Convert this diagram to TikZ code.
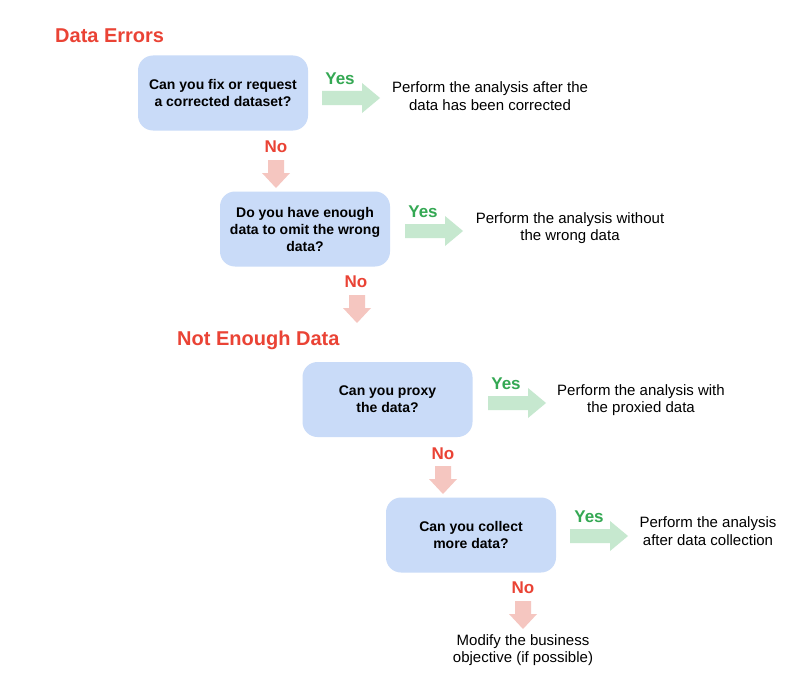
\documentclass[tikz,border=0pt]{standalone}
\usepackage{fontspec}
\setmainfont{Liberation Sans}
\begin{document}
\begin{tikzpicture}[x=1pt,y=-1pt,
  qbox/.style={fill=boxblue, rounded corners=15pt, minimum width=170pt, minimum height=75pt, align=center, font=\fontsize{14}{17}\selectfont\bfseries, inner sep=0pt},
  ans/.style={align=center, font=\fontsize{15}{17.5}\selectfont, inner sep=0pt},
  ttl/.style={text=titlered, font=\fontsize{20}{24}\selectfont\bfseries, anchor=west, inner sep=0pt},
  yeslbl/.style={text=yesgreen, font=\fontsize{17}{20}\selectfont\bfseries, inner sep=0pt},
  nolbl/.style={text=titlered, font=\fontsize{17}{20}\selectfont\bfseries, inner sep=0pt},
  yesarrow/.style={fill=arrgreen},
  noarrow/.style={fill=arrpink}]
\definecolor{boxblue}{HTML}{C9DBF8}
\definecolor{titlered}{HTML}{EA4335}
\definecolor{yesgreen}{HTML}{34A853}
\definecolor{arrgreen}{HTML}{C6E8CF}
\definecolor{arrpink}{HTML}{F5C6C0}
\useasboundingbox (0,0) rectangle (809,677);
\fill[white] (0,0) rectangle (809,677);
% right arrow: left x, center y
\newcommand{\myrarrow}[2]{\fill[yesarrow] (#1,#2-7) -- ++(40,0) -- ++(0,-8) -- ++(18,15) -- ++(-18,15) -- ++(0,-8) -- ++(-40,0) -- cycle;}
% down arrow: center x, top y
\newcommand{\mydarrow}[2]{\fill[noarrow] (#1-8,#2) -- ++(16,0) -- ++(0,13) -- ++(6,0) -- ++(-14,15) -- ++(-14,-15) -- ++(6,0) -- cycle;}

\node[ttl] (t1) at (55,36) {Data Errors};
\node[ttl] (t2) at (177,340) {Not Enough Data};

\node[qbox] (b1) at (223,93) {Can you fix or request\\a corrected dataset?};
\node[qbox] (b2) at (305,229) {Do you have enough\\data to omit the wrong\\data?};
\node[qbox] (b3) at (387.5,399.5) {Can you proxy\\the data?};
\node[qbox] (b4) at (471,535) {Can you collect\\more data?};

\node[ans] (a1) at (490,96) {Perform the analysis after the\\data has been corrected};
\node[ans] (a2) at (570,228) {Perform the analysis without\\the wrong data};
\node[ans] (a3) at (641,400) {Perform the analysis with\\the proxied data};
\node[ans] (a4) at (708,531) {Perform the analysis\\after data collection};
\node[ans] (a5) at (523,650) {Modify the business\\objective (if possible)};

\node[yeslbl] (y1) at (340,79) {Yes};
\node[yeslbl] (y2) at (423,212) {Yes};
\node[yeslbl] (y3) at (506,384) {Yes};
\node[yeslbl] (y4) at (589,517) {Yes};

\node[nolbl] (n1) at (276,147) {No};
\node[nolbl] (n2) at (356,282) {No};
\node[nolbl] (n3) at (443,454) {No};
\node[nolbl] (n4) at (523,588) {No};

\myrarrow{322}{98}
\myrarrow{405}{231}
\myrarrow{488}{403}
\myrarrow{570}{536}

\mydarrow{276}{160}
\mydarrow{357}{295}
\mydarrow{443}{466}
\mydarrow{523}{601}
\end{tikzpicture}
\end{document}
